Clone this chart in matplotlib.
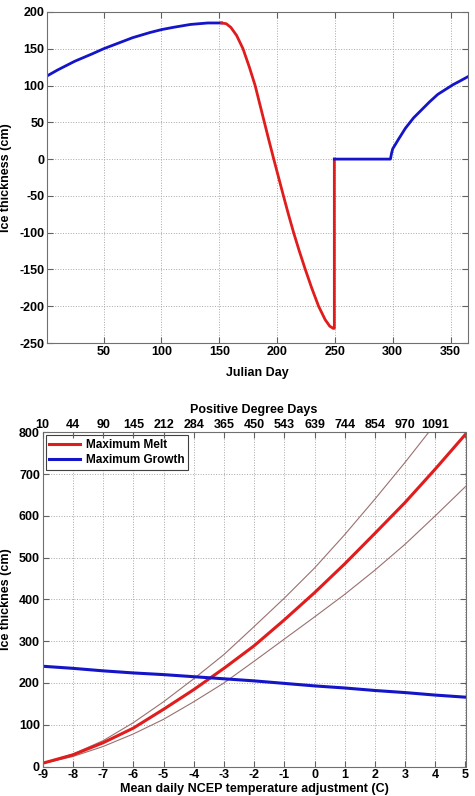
import matplotlib.pyplot as plt
import numpy as np

plt.rcParams['font.family'] = ['Liberation Sans', 'DejaVu Sans']
plt.rcParams['font.size'] = 9
plt.rcParams['font.weight'] = 'bold'
plt.rcParams['axes.unicode_minus'] = False

# top panel: seasonal ice thickness
grow1_day = [1, 10, 25, 40, 50, 60, 75, 90, 100, 110, 125, 140, 152]
grow1_ice = [113, 121, 133, 143, 150, 156, 165, 172, 176, 179, 183, 185, 185]
melt_day = [152, 156, 160, 165, 170.5, 176, 181, 185, 189, 193, 197.1, 201.3, 205.5,
            209.8, 214.3, 219.2, 224.4, 229.9, 235.9, 241.5, 245.5, 248.5, 249.5, 249.5]
melt_ice = [185, 184, 179, 168, 150, 125, 100, 75, 50, 25, 0, -25, -50,
            -75, -100, -125, -150, -175, -200, -218, -227, -230, -230, 0]
grow2_day = [249.5, 298, 299, 300, 305, 311, 318, 325, 332, 339, 345, 352, 358, 365]
grow2_ice = [0, 0, 8, 14, 27, 42, 56, 67, 78, 88, 94, 101, 106, 112]

# bottom panel: sensitivity to temperature adjustment
temp_adj = [-9, -8, -7, -6, -5, -4, -3, -2, -1, 0, 1, 2, 3, 4, 5]
max_melt = [8, 28, 57, 92, 137, 184, 235, 289, 351, 416, 485, 558, 632, 712, 795]
melt_upper = [8, 30, 62, 105, 155, 210, 268, 335, 403, 475, 555, 640, 728, 820, 915]
melt_lower = [7, 24, 48, 78, 113, 155, 200, 252, 305, 358, 412, 470, 532, 600, 670]
max_growth = [240, 235, 229, 224, 220, 215, 210, 205, 199, 193, 188, 182, 177, 171, 166]
pdd_labels = ['10', '44', '90', '145', '212', '284', '365', '450', '543', '639',
              '744', '854', '970', '1091', '']

BLUE = '#1414c8'
RED = '#e01c1c'


def matlab_style(ax):
    ax.grid(True, linestyle=':', color='#a8a8a8', linewidth=0.7)
    ax.tick_params(direction='in', top=True, right=True, length=4,
                   color='#606060', pad=2)
    for s in ax.spines.values():
        s.set_color('#707070')
        s.set_linewidth(0.8)


fig = plt.figure(figsize=(4.75, 7.96), dpi=100)

ax1 = fig.add_axes([0.099, 0.569, 0.886, 0.416])
ax1.plot(grow1_day, grow1_ice, color=BLUE, lw=2)
ax1.plot(melt_day, melt_ice, color=RED, lw=2)
ax1.plot(grow2_day, grow2_ice, color=BLUE, lw=2)
ax1.set_xlim(1, 365)
ax1.set_ylim(-250, 200)
ax1.set_xticks(np.arange(50, 351, 50))
ax1.set_yticks(np.arange(-250, 201, 50))
ax1.set_xlabel('Julian Day', fontweight='bold')
ax1.set_ylabel('Ice thickness (cm)', fontweight='bold')
ax1.yaxis.set_label_coords(-0.083, 0.5)
ax1.xaxis.set_label_coords(0.5, -0.071)
matlab_style(ax1)

ax2 = fig.add_axes([0.09, 0.037, 0.890, 0.420])
ax2.plot(temp_adj, melt_upper, color='#9a7070', lw=0.8)
ax2.plot(temp_adj, melt_lower, color='#9a7070', lw=0.8)
ax2.plot(temp_adj, max_melt, color=RED, lw=2.2, label='Maximum Melt')
ax2.plot(temp_adj, max_growth, color=BLUE, lw=2.2, label='Maximum Growth')
ax2.set_xlim(-9, 5)
ax2.set_ylim(0, 800)
ax2.set_xticks(temp_adj)
ax2.set_yticks(np.arange(0, 801, 100))
ax2.set_xlabel('Mean daily NCEP temperature adjustment (C)', fontweight='bold')
ax2.set_ylabel('Ice thicknes (cm)', fontweight='bold')
ax2.yaxis.set_label_coords(-0.072, 0.5)
ax2.xaxis.set_label_coords(0.5, -0.048)
matlab_style(ax2)
ax2.tick_params(axis='x', pad=1.5)
leg = ax2.legend(loc='upper left', borderaxespad=0.25, fancybox=False,
                 framealpha=1, edgecolor='#404040', handlelength=2.6,
                 handletextpad=0.5, borderpad=0.3, labelspacing=0.3,
                 prop={'family': ['Liberation Sans', 'DejaVu Sans'],
                       'weight': 'bold', 'size': 8.5})
leg.get_frame().set_linewidth(0.8)

top = ax2.twiny()
top.set_xlim(-9, 5)
top.set_xticks(temp_adj)
top.set_xticklabels(pdd_labels)
top.tick_params(direction='in', length=4, color='#606060', pad=1)
top.set_xlabel('Positive Degree Days', fontweight='bold', labelpad=4)
for s in top.spines.values():
    s.set_visible(False)

fig.savefig('out.png', dpi=100)
